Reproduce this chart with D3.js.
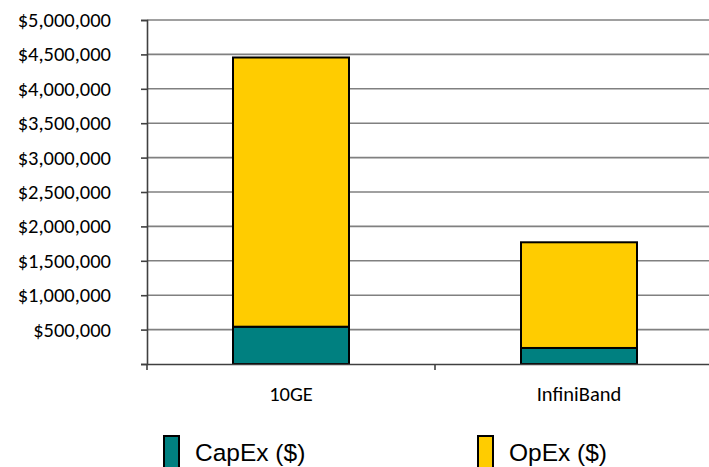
<!DOCTYPE html>
<html><head><meta charset="utf-8">
<script src="https://cdn.jsdelivr.net/npm/d3@7"></script>
<style>body{margin:0;background:#fff;overflow:hidden}svg{display:block}</style>
</head><body>
<script>
const categories = ["10GE", "InfiniBand"];
const capex = [542000, 233000];
const opex = [3913000, 1536000];
const seriesNames = ["CapEx ($)", "OpEx ($)"];
const colors = ["#008080", "#FFCC00"];
const yTicks = [0, 500000, 1000000, 1500000, 2000000, 2500000, 3000000, 3500000, 4000000, 4500000, 5000000];

const W = 709, H = 467;
const svg = d3.select("body").append("svg").attr("width", W).attr("height", H);
const x0 = 147, x1 = 723, yTop = 20, yBot = 364;
const x = d3.scaleBand().domain(categories).range([x0, x1]).paddingInner(0).paddingOuter(0);
const y = d3.scaleLinear().domain([0, 5000000]).range([yBot, yTop]);
const fmt = v => v === 0 ? "" : "$" + d3.format(",")(v);

// gridlines
svg.append("g").selectAll("line").data(yTicks.filter(d => d > 0)).join("line")
  .attr("x1", x0).attr("x2", x1).attr("y1", d => y(d)).attr("y2", d => y(d))
  .attr("stroke", "#808080").attr("stroke-width", 1.6);

// y axis
const ya = svg.append("g").attr("transform", `translate(${x0},0)`)
  .call(d3.axisLeft(y).tickValues(yTicks).tickFormat(fmt).tickSize(6).tickPadding(30));
ya.attr("font-size", null).attr("font-family", null);
ya.select(".domain").attr("stroke", "#404040").attr("stroke-width", 1.6);
ya.selectAll(".tick line").attr("stroke", "#404040").attr("stroke-width", 1.6);
ya.selectAll("text").attr("font-family", "Carlito, Calibri, 'Open Sans', sans-serif").attr("font-size", 20.5).attr("fill", "#000");

// bars
const bw = 116;
const stackData = categories.map((c, i) => ({cat: c, capex: capex[i], opex: opex[i]}));
const stack = d3.stack().keys(["capex", "opex"])(stackData);
svg.append("g").selectAll("g").data(stack).join("g").attr("fill", (d, i) => colors[i])
  .selectAll("rect").data(d => d).join("rect")
  .attr("x", d => x(d.data.cat) + x.bandwidth() / 2 - bw / 2)
  .attr("width", bw)
  .attr("y", d => y(d[1]))
  .attr("height", d => y(d[0]) - y(d[1]))
  .attr("stroke", "#000").attr("stroke-width", 2);

// x axis
const xa = svg.append("g").attr("transform", `translate(0,${yBot})`)
  .call(d3.axisBottom(x).tickSize(0).tickPadding(22));
xa.attr("font-size", null).attr("font-family", null);
xa.select(".domain").attr("stroke", "#404040").attr("stroke-width", 1.6);
xa.selectAll("text").attr("font-family", "Carlito, Calibri, 'Open Sans', sans-serif").attr("font-size", 20.5).attr("fill", "#000");
svg.append("g").selectAll("line").data([x0, x0 + x.bandwidth()]).join("line")
  .attr("x1", d => d).attr("x2", d => d).attr("y1", yBot).attr("y2", yBot + 6)
  .attr("stroke", "#404040").attr("stroke-width", 1.6);

// legend
const legX = [164, 478];
const lg = svg.append("g").selectAll("g").data(seriesNames).join("g")
  .attr("transform", (d, i) => `translate(${legX[i]},436)`);
lg.append("rect").attr("width", 15).attr("height", 34).attr("fill", (d, i) => colors[i])
  .attr("stroke", "#000").attr("stroke-width", 2);
lg.append("text").attr("x", 31).attr("y", 25).text(d => d)
  .attr("font-family", "'Liberation Sans', Arial, sans-serif").attr("font-size", 24.5).attr("fill", "#000");
</script>
</body></html>
